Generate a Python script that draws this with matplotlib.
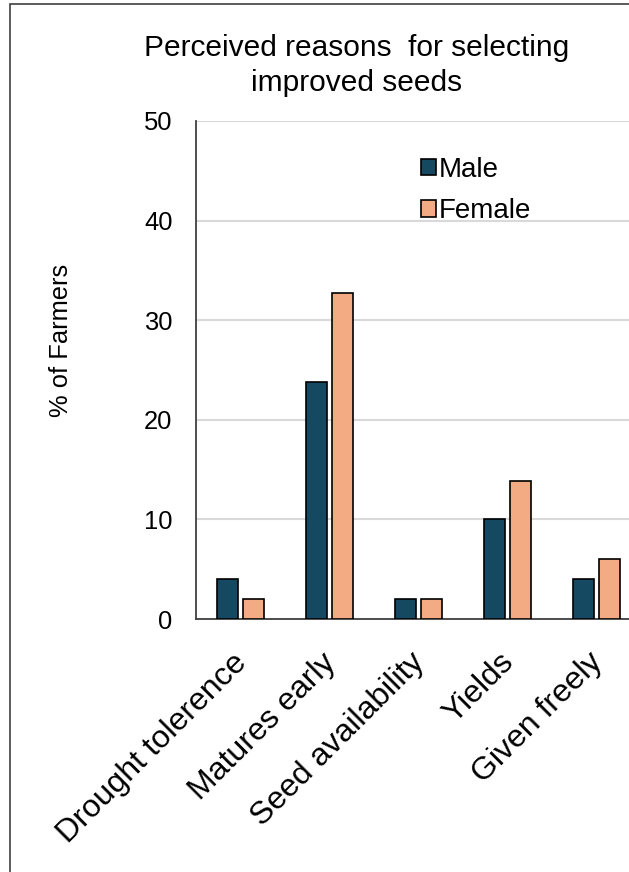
#!/usr/bin/env python3
import numpy as np
import matplotlib
matplotlib.use("Agg")
import matplotlib.pyplot as plt
import matplotlib.transforms as mtransforms
from matplotlib.patches import Rectangle

plt.rcParams["font.family"] = ["Liberation Sans", "DejaVu Sans"]

# Survey results (% of farmers) by reason and gender
reasons = ["Drought tolerence", "Matures early", "Seed availability", "Yields", "Given freely"]
male = [4, 23.8, 2, 10, 4]
female = [2, 32.7, 2, 13.9, 6]

MALE_COLOR = "#154961"
FEMALE_COLOR = "#F2AB83"
FS = 18.4

W, H = 629, 872
fig = plt.figure(figsize=(W / 100, H / 100), dpi=100)

# outer chart frame (runs off the right and bottom edge)
fig.patches.append(Rectangle((10 / W, -0.1), 1.2, 1 - 4.5 / H + 0.1,
                             transform=fig.transFigure, fill=False,
                             edgecolor="#404040", linewidth=1.2))

ax = fig.add_axes([196 / W, 1 - 619 / H, 445 / W, (619 - 121) / H])

x = np.arange(len(reasons))
width = 0.24
off = 0.145
ax.bar(x - off, male, width, color=MALE_COLOR, edgecolor="black", linewidth=1.2,
       label="Male", zorder=3)
ax.bar(x + off, female, width, color=FEMALE_COLOR, edgecolor="black", linewidth=1.2,
       label="Female", zorder=3)

ax.set_xlim(-0.5, len(reasons) - 0.5)
ax.set_ylim(0, 50)
ax.set_yticks(np.arange(0, 51, 10))
ax.tick_params(axis="y", length=0, pad=17, labelsize=FS)
ax.tick_params(axis="x", length=0, pad=8, labelsize=23)
ax.set_xticks(x)
ax.set_xticklabels(reasons, rotation=45, ha="right", va="center", rotation_mode="anchor")
shift = mtransforms.ScaledTranslation(0.02, -0.28, fig.dpi_scale_trans)
for lbl in ax.get_xticklabels():
    lbl.set_transform(lbl.get_transform() + shift)

ax.grid(axis="y", color="#d9d9d9", linewidth=1.5, zorder=0)
for s in ["top", "right"]:
    ax.spines[s].set_visible(False)
for s in ["left", "bottom"]:
    ax.spines[s].set_color("#404040")
    ax.spines[s].set_linewidth(1.3)

fig.text(61.5 / W, 1 - 340 / H, "% of Farmers", rotation=90, fontsize=FS,
         ha="center", va="center")

fig.text(357 / W, 1 - 34 / H, "Perceived reasons  for selecting\nimproved seeds",
         fontsize=21.5, ha="center", va="top", linespacing=1.3)

leg = ax.legend(loc="upper left", bbox_to_anchor=(421 / W, 1 - 157 / H),
                bbox_transform=fig.transFigure, frameon=False, fontsize=20,
                handlelength=0.54, handleheight=0.54, handletextpad=0.1,
                labelspacing=0.55, borderpad=0, borderaxespad=0)

fig.savefig("out.png", dpi=100)
